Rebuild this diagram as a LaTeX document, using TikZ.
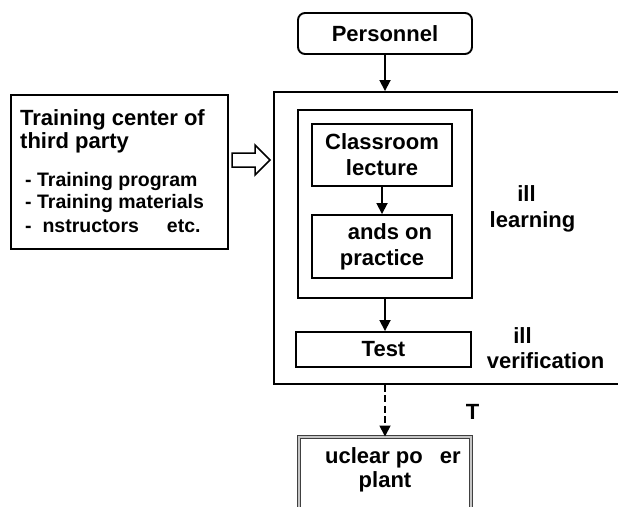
\documentclass[tikz,border=0pt]{standalone}
\usepackage{fontspec}
\setmainfont{Liberation Sans}
\usetikzlibrary{arrows.meta}
\begin{document}
\begin{tikzpicture}[x=1pt,y=-1pt,
  box/.style={draw, line width=1.9pt, inner sep=0pt},
  lbl/.style={font=\fontsize{22}{26}\selectfont\bfseries, align=center, inner sep=0pt},
  head/.style={font=\fontsize{22}{26}\selectfont\bfseries, inner sep=0pt, anchor=base west},
  item/.style={font=\fontsize{19.5}{23}\selectfont\bfseries, inner sep=0pt, anchor=base west},
  side/.style={font=\fontsize{22}{26}\selectfont\bfseries, inner sep=0pt, anchor=base},
  link/.style={line width=1.8pt, -{Triangle[length=11pt,width=11pt]}},
  hollow/.style={draw, line width=1.5pt, fill=white, line join=miter},
]
\useasboundingbox (0,0) rectangle (618,506);

% top: personnel
\node[box, rounded corners=7pt, minimum width=174pt, minimum height=41pt, lbl] (pers) at (385,33.5) {Personnel};

% large frame (open to the right)
\node[box, minimum width=380pt, minimum height=292pt] (outer) at (464,238) {};

% learning block
\node[box, minimum width=174pt, minimum height=188pt] (learn) at (385,204) {};
\node[box, minimum width=140pt, minimum height=62pt, lbl] (class) at (382,155) {Classroom\\lecture};
\node[box, minimum width=140pt, minimum height=63pt, lbl] (hands) at (382,246.5) {\phantom{H}ands on\\practice};

% test
\node[box, minimum width=175pt, minimum height=35pt, lbl] (test) at (383.5,349.5) {Test};

% plant
\node[draw=black!75, line width=1pt, double=gray!45, double distance=2pt,
      minimum width=172pt, minimum height=106pt, inner sep=0pt] (nuc) at (385,490) {};
\node[lbl, font=\fontsize{22}{24}\selectfont\bfseries] (nuctext) at (385,470) {\phantom{N}uclear po\phantom{w}er\\plant};

% side labels
\node[side] (sl1) at (526.5,201) {ill};
\node[side] (sl2) at (532.5,227) {learning};
\node[side] (sv1) at (522.5,343) {ill};
\node[side] (sv2) at (545.5,368) {verification};
\node[side] (tl) at (472.5,419) {T};

% third party training center
\node[box, minimum width=217pt, minimum height=154pt] (tc) at (119.5,172) {};
\node[head] (tc1) at (20,125) {Training center of};
\node[head] (tc2) at (20,148) {third party};
\node[item] (tc3) at (25,186) {- Training program};
\node[item] (tc4) at (25,208.5) {- Training materials};
\node[item] (tc5) at (25,232) {- \phantom{I}nstructors\hspace{28pt}etc.};

% hollow arrow from the training center to the frame
\draw[hollow] (232,153) -- (255,153) -- (255,145) -- (270,160) -- (255,175) -- (255,167) -- (232,167) -- cycle;

% connectors
\draw[link] (pers) -- (pers |- outer.north);
\draw[link] (class) -- (hands);
\draw[link] (learn.south) -- (learn |- test.north);
\draw[link, dash pattern=on 7pt off 3.5pt] (outer.south -| nuc) -- (nuc.north);
\end{tikzpicture}
\end{document}
